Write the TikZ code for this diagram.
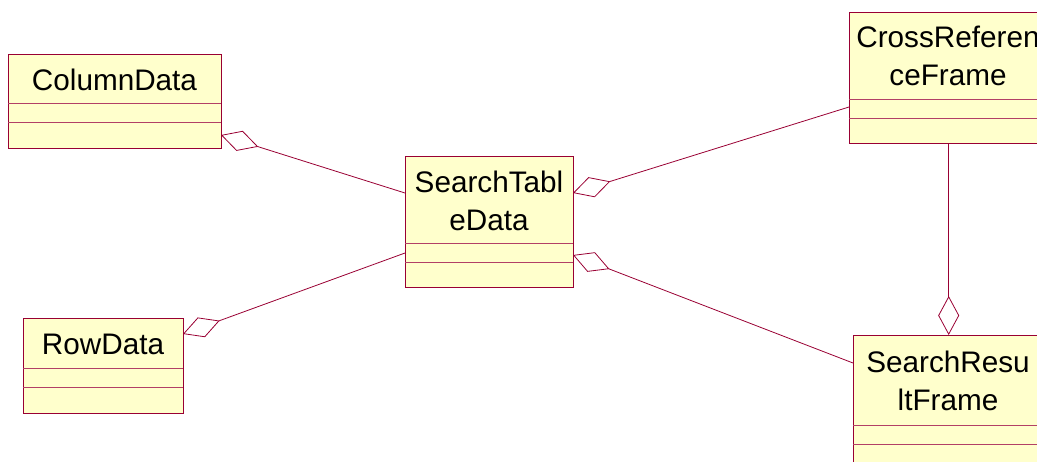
\documentclass[tikz,border=0pt]{standalone}
\usepackage{fontspec}
\setmainfont{Liberation Sans}
\usetikzlibrary{arrows.meta}
\definecolor{umlred}{RGB}{153,0,51}
\definecolor{umlfill}{RGB}{255,255,204}

\begin{document}
\begin{tikzpicture}[x=1pt,y=-1pt,
	classbox/.style={rectangle, draw=umlred, fill=umlfill, line width=1.4pt, anchor=north west, inner sep=0pt},
	classname/.style={align=center, inner sep=0pt, font=\fontsize{29.7}{38}\selectfont},
	sep/.style={draw=umlred!75, line width=1pt},
	aggr/.style={draw=umlred, line width=0.8pt, -{Diamond[open, length=39pt, width=21pt]}}]
	\useasboundingbox (0,0) rectangle (1037,461);
	\clip (0,0) rectangle (1037,461);
	%\draw[help lines] (0,0) grid[step=50] (1037,461);
	% classes
	\node[classbox, minimum width=213pt, minimum height=94pt] (col) at (8,54) {};
	\node[classname] (colname) at (114.5,80) {ColumnData};
	\draw[sep] (8,103) -- (221,103) (8,122) -- (221,122);

	\node[classbox, minimum width=160pt, minimum height=95pt] (row) at (23,318) {};
	\node[classname] (rowname) at (103,344) {RowData};
	\draw[sep] (23,368) -- (183,368) (23,387) -- (183,387);

	\node[classbox, minimum width=168pt, minimum height=131pt] (std) at (405,156) {};
	\node[classname] (stdname) at (489,201) {SearchTabl\\eData};
	\draw[sep] (405,243) -- (573,243) (405,262) -- (573,262);

	\node[classbox, minimum width=198pt, minimum height=131pt] (crf) at (849,12) {};
	\node[classname] (crfname) at (948,56) {CrossReferen\\ceFrame};
	\draw[sep] (849,99) -- (1047,99) (849,118) -- (1047,118);

	\node[classbox, minimum width=190pt, minimum height=160pt] (srf) at (853,335) {};
	\node[classname] (srfname) at (948,381) {SearchResu\\ltFrame};
	\draw[sep] (853,425) -- (1043,425) (853,444) -- (1043,444);

	% attachment points
	\coordinate (colR) at (221,135);
	\coordinate (rowR) at (183,334);
	\coordinate (stdL1) at (405,193);
	\coordinate (stdL2) at (405,253);
	\coordinate (stdR1) at (573,193);
	\coordinate (stdR2) at (573,255);
	\coordinate (crfL) at (849,107);
	\coordinate (srfL) at (853,363);

	% aggregations
	\draw[aggr] (stdL1) -- (colR);
	\draw[aggr] (stdL2) -- (rowR);
	\draw[aggr] (crfL) -- (stdR1);
	\draw[aggr] (srfL) -- (stdR2);
	\draw[aggr] (crf.south) -- (srf.north);
\end{tikzpicture}
\end{document}
